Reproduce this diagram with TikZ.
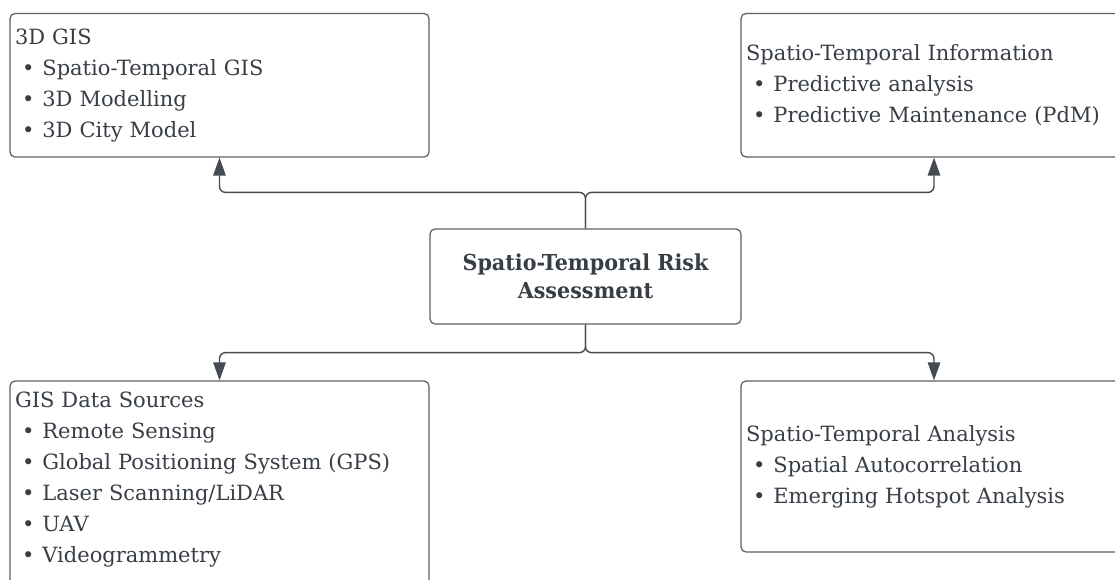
\documentclass[tikz,border=0pt]{standalone}
\usepackage{fontspec}
\setmainfont{DejaVu Serif}
\newfontfamily\riskfont[FakeStretch=0.94]{DejaVu Serif}
\usetikzlibrary{arrows.meta}

\definecolor{textgray}{HTML}{383E46}
\definecolor{linegray}{HTML}{5A5F66}
\definecolor{arrowgray}{HTML}{454B53}

% bullet line inside a topic box
\newcommand{\bitem}{\hspace*{7pt}\textbullet\hspace{8pt}}

\tikzset{
	topicbox/.style={draw=linegray, line width=1.2pt, rounded corners=5pt, fill=white,
		inner xsep=5pt, inner ysep=0pt, align=left, text=textgray,
		font=\fontsize{21}{31}\selectfont},
	riskbox/.style={draw=linegray, line width=1.2pt, rounded corners=5pt, fill=white,
		align=center, text=textgray, font=\riskfont\bfseries\fontsize{22}{28}\selectfont},
	link/.style={draw=arrowgray, line width=1.4pt, rounded corners=6pt,
		-{Triangle[length=18pt, width=12.5pt]}}
}

\begin{document}
\begin{tikzpicture}[x=1pt, y=-1pt]
	\useasboundingbox [fill=white] (0, 0) rectangle (1115, 579);

	% centre box
	\node [riskbox, minimum width=311pt, minimum height=95pt] (risk) at (585.5, 276.5)
		{Spatio-Temporal Risk\\Assessment};

	% the four topics
	\node [topicbox, minimum width=419pt, minimum height=143.5pt, text width=409pt] (gis) at (219.5, 85.25)
		{3D GIS\\ \bitem Spatio-Temporal GIS\\ \bitem 3D Modelling\\ \bitem 3D City Model};
	\node [topicbox, minimum width=386pt, minimum height=143.5pt, text width=376pt] (info) at (934, 85.25)
		{Spatio-Temporal Information\\ \bitem Predictive analysis\\ \bitem Predictive Maintenance (PdM)};
	\node [topicbox, minimum width=419pt, minimum height=219pt, text width=409pt] (sources) at (219.5, 490.5)
		{GIS Data Sources\\ \bitem Remote Sensing\\ \bitem Global Positioning System (GPS)\\
		 \bitem Laser Scanning/LiDAR\\ \bitem UAV\\ \bitem Videogrammetry\rule[-27pt]{0pt}{27pt}};
	\node [topicbox, minimum width=386pt, minimum height=171pt, text width=376pt] (analysis) at (934, 466.5)
		{Spatio-Temporal Analysis\\ \bitem Spatial Autocorrelation\\ \bitem Emerging Hotspot Analysis};

	% connectors
	\draw [link] (risk.north) -- ++(0, -36) -| (gis.south);
	\draw [link] (risk.north) -- ++(0, -36) -| (info.south);
	\draw [link] (risk.south) -- ++(0, 28) -| (sources.north);
	\draw [link] (risk.south) -- ++(0, 28) -| (analysis.north);
\end{tikzpicture}
\end{document}
